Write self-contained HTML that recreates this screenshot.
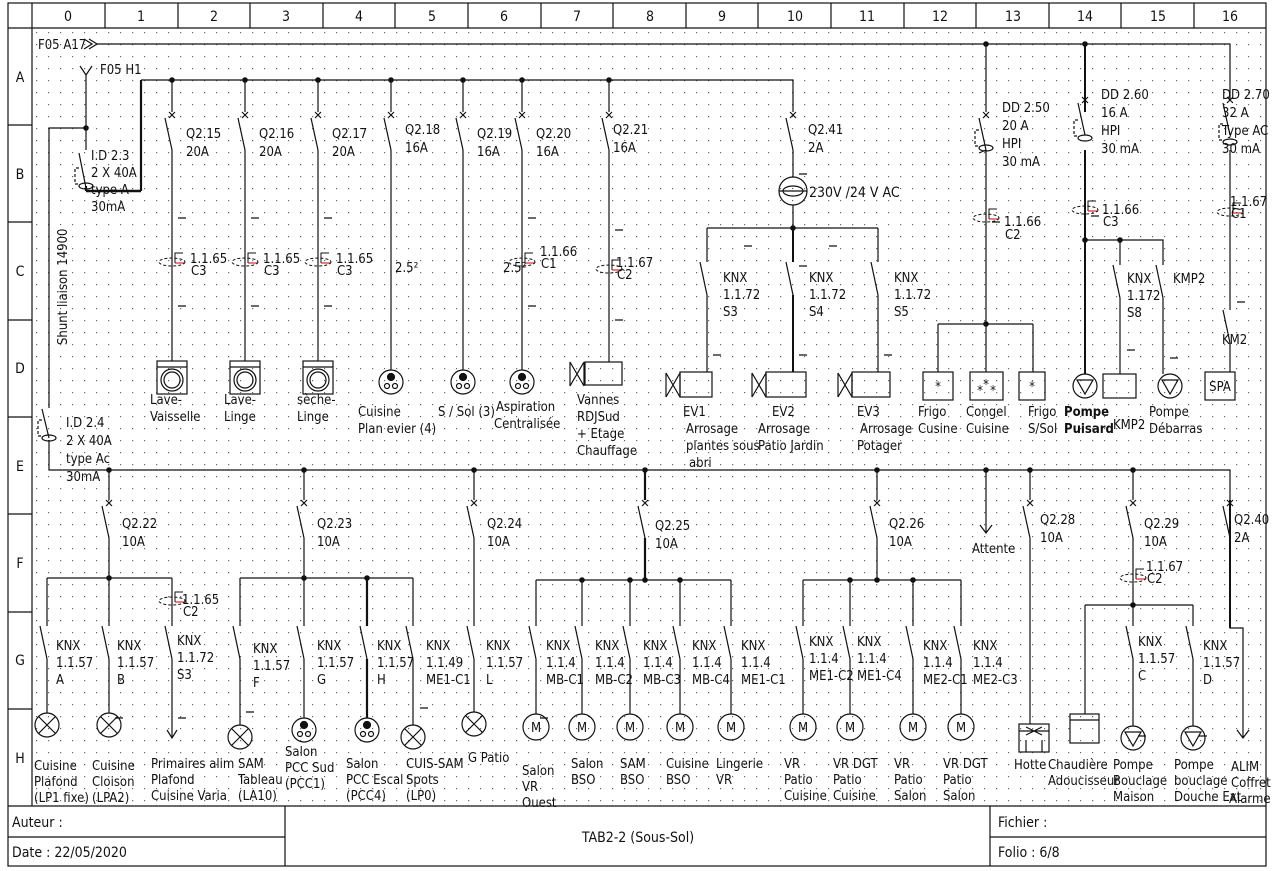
<!DOCTYPE html>
<html><head><meta charset="utf-8"><style>
html,body{margin:0;padding:0;background:#fff;}
svg{display:block;}
text{font-family:"DejaVu Sans Condensed","DejaVu Sans","Liberation Sans",sans-serif;font-size:13px;fill:#111;}
.s{font-size:10.5px;}
.f{font-size:14px;}
</style></head><body>
<svg width="1285" height="871" viewBox="0 0 1285 871" xmlns="http://www.w3.org/2000/svg">
<defs>
<pattern id="dots" x="36" y="32" width="12" height="12" patternUnits="userSpaceOnUse"><rect x="0" y="0" width="1.2" height="1.2" fill="#666"/></pattern>
<g id="B" fill="none" stroke="#111" stroke-width="1.2"><path d="M-3,-3L3,3M-3,3L3,-3M-7,3L0,35"/></g>
<g id="W" fill="none" stroke="#111" stroke-width="1.2"><path d="M-7,0L0,33"/></g>
<g id="L" fill="none" stroke="#111" stroke-width="1.2"><circle r="12"/><path d="M-8.5,-8.5L8.5,8.5M-8.5,8.5L8.5,-8.5"/></g>
<g id="S" stroke="#111" stroke-width="1.2"><circle r="12" fill="none"/><circle cy="-5" r="3.5" fill="#111"/><circle cx="-4" cy="4" r="2.5" fill="none"/><circle cx="4" cy="4" r="2.5" fill="none"/></g>
<g id="N" fill="none" stroke="#111" stroke-width="1"><ellipse cx="0" cy="4" rx="13" ry="4" stroke-dasharray="3,2"/><path d="M3,5V-5H11"/><path d="M3,5H12" stroke="#c00"/></g>
<g id="P" fill="none" stroke="#111" stroke-width="1.2"><circle r="12"/><path d="M-8,-6H8L0,8Z"/></g>
<g id="V" fill="none" stroke="#111" stroke-width="1.2"><path d="M-14,-12L0,12M-14,12L0,-12M-14,-12V12M0,-12V12"/></g>
<g id="WM" fill="none" stroke="#111" stroke-width="1.2"><rect x="-15" y="0" width="30" height="33"/><path d="M-15,6H15"/><circle cx="0" cy="19" r="11"/><circle cx="0" cy="19" r="8"/></g>
</defs>
<rect x="32" y="28" width="1234" height="778" fill="url(#dots)"/>
<g fill="none" stroke="#111" stroke-width="1.2">
<rect x="8" y="3" width="1258" height="863"/>
<path d="M8,28H1266M32,3V806M8,806H1266M8,837H285M990,837H1266M285,806V866M990,806V866"/>
<path d="M105,3V28M178,3V28M250,3V28M323,3V28M395,3V28M468,3V28M541,3V28M613,3V28M686,3V28M758,3V28M831,3V28M904,3V28M976,3V28M1049,3V28M1121,3V28M1194,3V28"/>
<path d="M8,125H32M8,222H32M8,320H32M8,417H32M8,514H32M8,612H32M8,709H32"/>
</g>
<g class="f" text-anchor="middle">
<text x="68" y="21" class="f">0</text><text x="141" y="21" class="f">1</text><text x="214" y="21" class="f">2</text><text x="286" y="21" class="f">3</text><text x="359" y="21" class="f">4</text><text x="432" y="21" class="f">5</text><text x="504" y="21" class="f">6</text><text x="577" y="21" class="f">7</text><text x="650" y="21" class="f">8</text><text x="722" y="21" class="f">9</text><text x="795" y="21" class="f">10</text><text x="867" y="21" class="f">11</text><text x="940" y="21" class="f">12</text><text x="1013" y="21" class="f">13</text><text x="1085" y="21" class="f">14</text><text x="1158" y="21" class="f">15</text><text x="1230" y="21" class="f">16</text>
<text x="20" y="82" class="f">A</text><text x="20" y="179" class="f">B</text><text x="20" y="276" class="f">C</text><text x="20" y="373" class="f">D</text><text x="20" y="471" class="f">E</text><text x="20" y="568" class="f">F</text><text x="20" y="665" class="f">G</text><text x="20" y="763" class="f">H</text>
</g>
<text x="12" y="827" class="f">Auteur :</text>
<text x="12" y="857" class="f">Date : 22/05/2020</text>
<text x="638" y="842" class="f" text-anchor="middle">TAB2-2 (Sous-Sol)</text>
<text x="998" y="827" class="f">Fichier :</text>
<text x="998" y="857" class="f">Folio : 6/8</text>

<g fill="none" stroke="#111" stroke-width="1.2">
<path d="M84,39L92,44L84,49M89,39L97,44L89,49"/>
<path d="M97,44H1230V100"/>
<path d="M80,66L86,75L92,66M86,75V150M86,128H49V408M49,440V470H1230V500"/>
<path d="M86,186V191M141,80V191" stroke-width="2.2"/>
<path d="M86,191H141" stroke-width="2.6"/>
<path d="M141,80H793V112"/>
<path d="M79,153L86,188"/><ellipse cx="86" cy="186" rx="7" ry="3"/><path d="M79,168H75V184H80" stroke-dasharray="3,2"/>
<path d="M42,409L49,438"/><ellipse cx="49" cy="438" rx="7" ry="3"/><path d="M42,420H38V436H43" stroke-dasharray="3,2"/>
<path d="M172,80V112M172,150V361M245,80V112M245,150V361M318,80V112M318,150V361M391,80V112M391,150V370M463,80V112M463,150V370M522,80V112M522,150V370M609,80V112M609,150V362"/>
<path d="M793,150V177M793,205V228M707,228H878M707,228V262M707,295V372M793,228V262M793,295V372M878,228V262M878,295V372"/>
<path d="M793,228V262M793,295V372" stroke-width="2"/>
<path d="M986,44V112M986,150V324M938,324H1033M938,324V372M986,324V372M1033,324V372"/>
<path d="M979,153L986,150"/><ellipse cx="986" cy="148" rx="7" ry="3"/><path d="M979,130H975V146H980" stroke-dasharray="3,2"/>
<path d="M1085,44V112M1085,150V374" stroke-width="2"/>
<ellipse cx="1085" cy="138" rx="7" ry="3"/><path d="M1078,120H1074V136H1079" stroke-dasharray="3,2"/>
<path d="M1085,240H1163V265M1120,240V265M1120,298V374M1163,298V374"/>
<path d="M1230,150V310M1230,343V372"/>
<ellipse cx="1230" cy="142" rx="7" ry="3"/><path d="M1223,124H1219V140H1224" stroke-dasharray="3,2"/>
<path d="M178,218H186M251,218H259M324,218H332M178,306H186M251,306H259M324,306H332M528,218H536M528,306H536M615,230H623M615,320H623M799,174H807M744,246H752M829,246H837M799,266H807M713,355H721M799,355H807M884,355H892M992,222H1000M1091,216H1099M1237,302H1245M1127,350H1135M1170,358H1178"/>
</g>
<g fill="#111">
<circle cx="86" cy="128" r="2.8"/><circle cx="172" cy="80" r="2.8"/><circle cx="245" cy="80" r="2.8"/><circle cx="318" cy="80" r="2.8"/><circle cx="391" cy="80" r="2.8"/><circle cx="463" cy="80" r="2.8"/><circle cx="522" cy="80" r="2.8"/><circle cx="609" cy="80" r="2.8"/>
<circle cx="986" cy="44" r="2.8"/><circle cx="1085" cy="44" r="2.8"/><circle cx="793" cy="228" r="2.8"/><circle cx="986" cy="324" r="2.8"/><circle cx="1085" cy="240" r="2.8"/><circle cx="1120" cy="240" r="2.8"/>
</g>
<use href="#B" x="172" y="115"/><use href="#B" x="245" y="115"/><use href="#B" x="318" y="115"/><use href="#B" x="391" y="115"/><use href="#B" x="463" y="115"/><use href="#B" x="522" y="115"/><use href="#B" x="609" y="115"/><use href="#B" x="793" y="115"/>
<use href="#B" x="986" y="115"/><use href="#B" x="1085" y="100"/><use href="#B" x="1230" y="100"/>
<use href="#W" x="707" y="262"/><use href="#W" x="793" y="262"/><use href="#W" x="878" y="262"/><use href="#W" x="1120" y="265"/><use href="#W" x="1163" y="265"/><use href="#W" x="1230" y="310"/>
<use href="#N" x="172" y="258"/><use href="#N" x="245" y="258"/><use href="#N" x="318" y="258"/><use href="#N" x="522" y="258"/><use href="#N" x="609" y="265"/><use href="#N" x="986" y="214"/><use href="#N" x="1085" y="206"/><use href="#N" x="1230" y="208"/>
<use href="#WM" x="172" y="361"/><use href="#WM" x="245" y="361"/><use href="#WM" x="318" y="361"/>
<use href="#S" x="391" y="382"/><use href="#S" x="463" y="382"/><use href="#S" x="522" y="382"/>
<g fill="none" stroke="#111" stroke-width="1.2">
<rect x="585" y="362" width="37" height="23"/><rect x="680" y="372" width="32" height="25"/><rect x="766" y="372" width="40" height="25"/><rect x="852" y="372" width="38" height="25"/>
<circle cx="793" cy="191" r="14"/><path d="M779,191H807"/><ellipse cx="793" cy="191" rx="10" ry="5"/>
<rect x="923" y="372" width="30" height="28"/><rect x="970" y="372" width="33" height="28"/><rect x="1019" y="372" width="26" height="28"/>
<rect x="1103" y="374" width="33" height="24"/><rect x="1205" y="372" width="30" height="28"/>
</g>
<use href="#V" x="584" y="374"/><use href="#V" x="680" y="385"/><use href="#V" x="766" y="385"/><use href="#V" x="852" y="385"/>
<use href="#P" x="1085" y="386"/><use href="#P" x="1170" y="386"/>
<text x="938" y="391" text-anchor="middle">*</text><text x="986" y="389" text-anchor="middle">*</text><text x="980" y="395" text-anchor="middle">*</text><text x="993" y="395" text-anchor="middle">*</text><text x="1032" y="391" text-anchor="middle">*</text>
<text x="1220" y="391" text-anchor="middle">SPA</text>

<text x="38" y="49">F05 A17</text><text x="100" y="74">F05 H1</text>
<text x="91" y="160">I.D 2.3</text><text x="91" y="177">2 X 40A</text><text x="91" y="194">type A</text><text x="91" y="211">30mA</text>
<text x="66" y="427">I.D 2.4</text><text x="66" y="445">2 X 40A</text><text x="66" y="463">type Ac</text><text x="66" y="481">30mA</text>
<text transform="translate(67,345) rotate(-90)">Shunt liaison 14900</text>
<text x="186" y="138">Q2.15</text><text x="186" y="156">20A</text>
<text x="259" y="138">Q2.16</text><text x="259" y="156">20A</text>
<text x="332" y="138">Q2.17</text><text x="332" y="156">20A</text>
<text x="405" y="134">Q2.18</text><text x="405" y="152">16A</text>
<text x="477" y="138">Q2.19</text><text x="477" y="156">16A</text>
<text x="536" y="138">Q2.20</text><text x="536" y="156">16A</text>
<text x="613" y="134">Q2.21</text><text x="613" y="152">16A</text>
<text x="808" y="134">Q2.41</text><text x="808" y="152">2A</text>
<text x="809" y="197" style="font-size:14px">230V /24 V AC</text>
<g class="s">
<text x="190" y="263">1.1.65</text><text x="191" y="275">C3</text>
<text x="263" y="263">1.1.65</text><text x="264" y="275">C3</text>
<text x="336" y="263">1.1.65</text><text x="337" y="275">C3</text>
<text x="540" y="256">1.1.66</text><text x="541" y="268">C1</text>
<text x="616" y="267">1.1.67</text><text x="617" y="279">C2</text>
<text x="1004" y="226">1.1.66</text><text x="1005" y="239">C2</text>
<text x="1102" y="214">1.1.66</text><text x="1103" y="226">C3</text>
<text x="1230" y="206">1.1.67</text><text x="1231" y="218">C1</text>
</g>
<text x="395" y="272">2.5²</text><text x="503" y="272">2.5²</text>
<text x="150" y="404">Lave-</text><text x="150" y="421">Vaisselle</text>
<text x="224" y="404">Lave-</text><text x="224" y="421">Linge</text>
<text x="297" y="404">sèche-</text><text x="297" y="421">Linge</text>
<text x="358" y="416">Cuisine</text><text x="358" y="433">Plan evier (4)</text>
<text x="438" y="416">S / Sol (3)</text>
<text x="496" y="411">Aspiration</text><text x="494" y="428">Centralisée</text>
<text x="577" y="404">Vannes</text><text x="577" y="421">RDJSud</text><text x="577" y="438">+ Etage</text><text x="577" y="455">Chauffage</text>
<text x="723" y="282">KNX</text><text x="723" y="299">1.1.72</text><text x="723" y="316">S3</text>
<text x="809" y="282">KNX</text><text x="809" y="299">1.1.72</text><text x="809" y="316">S4</text>
<text x="894" y="282">KNX</text><text x="894" y="299">1.1.72</text><text x="894" y="316">S5</text>
<text x="1002" y="112">DD 2.50</text><text x="1002" y="130">20 A</text><text x="1002" y="148">HPI</text><text x="1002" y="166">30 mA</text>
<text x="1101" y="99">DD 2.60</text><text x="1101" y="117">16 A</text><text x="1101" y="135">HPI</text><text x="1101" y="153">30 mA</text>
<text x="1222" y="99">DD 2.70</text><text x="1222" y="117">32 A</text><text x="1222" y="135">Type AC</text><text x="1222" y="153">30 mA</text>
<text x="1127" y="283">KNX</text><text x="1127" y="300">1.172</text><text x="1127" y="317">S8</text>
<text x="1173" y="283">KMP2</text><text x="1222" y="344">KM2</text>
<text x="683" y="416">EV1</text><text x="686" y="433">Arrosage</text><text x="686" y="450">plantes sous</text><text x="689" y="467">abri</text>
<text x="772" y="416">EV2</text><text x="758" y="433">Arrosage</text><text x="758" y="450">Patio Jardin</text>
<text x="857" y="416">EV3</text><text x="860" y="433">Arrosage</text><text x="857" y="450">Potager</text>
<text x="918" y="416">Frigo</text><text x="918" y="433">Cusine</text>
<text x="966" y="416">Congel</text><text x="966" y="433">Cuisine</text>
<text x="1028" y="416">Frigo</text><text x="1028" y="433">S/Sol</text>
<text x="1064" y="416" font-weight="bold">Pompe</text><text x="1064" y="433" font-weight="bold">Puisard</text>
<text x="1113" y="429">KMP2</text>
<text x="1149" y="416">Pompe</text><text x="1149" y="433">Débarras</text>

<g fill="none" stroke="#111" stroke-width="1.2">
<path d="M109,470V500M109,538V578M47,578H172M47,578V626M47,659V713M109,578V626M109,659V713M172,578V626M172,659V738"/>
<path d="M167,730L172,738L177,730"/>
<path d="M304,470V500M304,538V578M240,578H413M240,578V626M240,659V725M304,578V626M304,659V718M413,578V626M413,659V725"/>
<path d="M367,578V626M367,659V718" stroke-width="2.2"/>
<path d="M474,470V500M474,538V626M474,659V712"/>
<path d="M645,470V500M645,538V580" stroke-width="2.2"/>
<path d="M536,580H731M536,580V626M536,659V714M582,580V626M582,659V714M630,580V626M630,659V714M680,580V626M680,659V714M731,580V626M731,659V714"/>
<path d="M877,470V500M877,538V580M803,580H961M803,580V626M803,659V714M850,580V626M850,659V714M913,580V626M913,659V714M961,580V626M961,659V714"/>
<path d="M986,470V533M980,525L986,533L992,525"/>
<path d="M1030,470V500M1030,538V724"/>
<rect x="1019" y="724" width="30" height="28"/><path d="M1019,731H1049M1026,727L1042,735M1026,735L1042,727M1026,740V752M1042,740V752"/>
<path d="M1133,470V500M1133,538V626M1133,659V726M1085,605H1193M1085,605V714M1193,605V626M1193,659V726"/>
<rect x="1070" y="714" width="29" height="29"/><path d="M1070,720H1099"/>
<path d="M1230,538V628H1243V738M1237,730L1243,738L1249,730" />
<path d="M1230,500V628" stroke-width="2"/>
<path d="M115,718H123M178,718H186M246,712H254M420,708H428M540,718H548M1138,736H1146M1199,736H1207"/>
</g>
<g fill="#111">
<circle cx="109" cy="470" r="2.8"/><circle cx="304" cy="470" r="2.8"/><circle cx="474" cy="470" r="2.8"/><circle cx="645" cy="470" r="2.8"/><circle cx="877" cy="470" r="2.8"/><circle cx="986" cy="470" r="2.8"/><circle cx="1030" cy="470" r="2.8"/><circle cx="1133" cy="470" r="2.8"/>
<circle cx="109" cy="578" r="2.8"/><circle cx="304" cy="578" r="2.8"/><circle cx="367" cy="578" r="2.8"/><circle cx="582" cy="580" r="2.8"/><circle cx="630" cy="580" r="2.8"/><circle cx="645" cy="580" r="2.8"/><circle cx="680" cy="580" r="2.8"/>
<circle cx="850" cy="580" r="2.8"/><circle cx="877" cy="580" r="2.8"/><circle cx="913" cy="580" r="2.8"/><circle cx="1133" cy="605" r="2.8"/>
</g>
<use href="#B" x="109" y="503"/><use href="#B" x="304" y="503"/><use href="#B" x="474" y="503"/><use href="#B" x="645" y="503"/><use href="#B" x="877" y="503"/><use href="#B" x="1030" y="503"/><use href="#B" x="1133" y="503"/><use href="#B" x="1230" y="503"/>
<use href="#W" x="47" y="626"/><use href="#W" x="109" y="626"/><use href="#W" x="172" y="626"/><use href="#W" x="240" y="626"/><use href="#W" x="304" y="626"/><use href="#W" x="367" y="626"/><use href="#W" x="413" y="626"/><use href="#W" x="474" y="626"/>
<use href="#W" x="536" y="626"/><use href="#W" x="582" y="626"/><use href="#W" x="630" y="626"/><use href="#W" x="680" y="626"/><use href="#W" x="731" y="626"/>
<use href="#W" x="803" y="626"/><use href="#W" x="850" y="626"/><use href="#W" x="913" y="626"/><use href="#W" x="961" y="626"/><use href="#W" x="1133" y="626"/><use href="#W" x="1193" y="626"/>
<use href="#N" x="172" y="597"/><use href="#N" x="1133" y="574"/>
<use href="#L" x="47" y="725"/><use href="#L" x="109" y="725"/><use href="#L" x="240" y="737"/><use href="#L" x="413" y="737"/><use href="#L" x="474" y="724"/>
<use href="#S" x="304" y="730"/><use href="#S" x="367" y="730"/>
<use href="#P" x="1133" y="738"/><use href="#P" x="1193" y="738"/>
<g fill="none" stroke="#111" stroke-width="1.2">
<circle cx="536" cy="727" r="13"/><circle cx="582" cy="727" r="13"/><circle cx="630" cy="727" r="13"/><circle cx="680" cy="727" r="13"/><circle cx="731" cy="727" r="13"/>
<circle cx="803" cy="727" r="13"/><circle cx="850" cy="727" r="13"/><circle cx="913" cy="727" r="13"/><circle cx="961" cy="727" r="13"/>
</g>
<g text-anchor="middle">
<text x="536" y="732">M</text><text x="582" y="732">M</text><text x="630" y="732">M</text><text x="680" y="732">M</text><text x="731" y="732">M</text>
<text x="803" y="732">M</text><text x="850" y="732">M</text><text x="913" y="732">M</text><text x="961" y="732">M</text>
</g>
<text x="122" y="528">Q2.22</text><text x="122" y="546">10A</text>
<text x="317" y="528">Q2.23</text><text x="317" y="546">10A</text>
<text x="487" y="528">Q2.24</text><text x="487" y="546">10A</text>
<text x="655" y="530">Q2.25</text><text x="655" y="548">10A</text>
<text x="889" y="528">Q2.26</text><text x="889" y="546">10A</text>
<text x="972" y="553">Attente</text>
<text x="1040" y="524">Q2.28</text><text x="1040" y="542">10A</text>
<text x="1144" y="528">Q2.29</text><text x="1144" y="546">10A</text>
<text x="1234" y="524">Q2.40</text><text x="1234" y="542">2A</text>
<g class="s"><text x="182" y="604">1.1.65</text><text x="183" y="616">C2</text><text x="1146" y="571">1.1.67</text><text x="1147" y="583">C2</text></g>
<text x="56" y="650">KNX</text><text x="56" y="667">1.1.57</text><text x="56" y="684">A</text>
<text x="117" y="650">KNX</text><text x="117" y="667">1.1.57</text><text x="117" y="684">B</text>
<text x="177" y="645">KNX</text><text x="177" y="662">1.1.72</text><text x="177" y="679">S3</text>
<text x="253" y="653">KNX</text><text x="253" y="670">1.1.57</text><text x="253" y="687">F</text>
<text x="317" y="650">KNX</text><text x="317" y="667">1.1.57</text><text x="317" y="684">G</text>
<text x="377" y="650">KNX</text><text x="377" y="667">1.1.57</text><text x="377" y="684">H</text>
<text x="426" y="650">KNX</text><text x="426" y="667">1.1.49</text><text x="426" y="684">ME1-C1</text>
<text x="486" y="650">KNX</text><text x="486" y="667">1.1.57</text><text x="486" y="684">L</text>
<text x="546" y="650">KNX</text><text x="546" y="667">1.1.4</text><text x="546" y="684">MB-C1</text>
<text x="595" y="650">KNX</text><text x="595" y="667">1.1.4</text><text x="595" y="684">MB-C2</text>
<text x="643" y="650">KNX</text><text x="643" y="667">1.1.4</text><text x="643" y="684">MB-C3</text>
<text x="692" y="650">KNX</text><text x="692" y="667">1.1.4</text><text x="692" y="684">MB-C4</text>
<text x="741" y="650">KNX</text><text x="741" y="667">1.1.4</text><text x="741" y="684">ME1-C1</text>
<text x="809" y="646">KNX</text><text x="809" y="663">1.1.4</text><text x="809" y="680">ME1-C2</text>
<text x="857" y="646">KNX</text><text x="857" y="663">1.1.4</text><text x="857" y="680">ME1-C4</text>
<text x="923" y="650">KNX</text><text x="923" y="667">1.1.4</text><text x="923" y="684">ME2-C1</text>
<text x="973" y="650">KNX</text><text x="973" y="667">1.1.4</text><text x="973" y="684">ME2-C3</text>
<text x="1138" y="646">KNX</text><text x="1138" y="663">1.1.57</text><text x="1138" y="680">C</text>
<text x="1203" y="650">KNX</text><text x="1203" y="667">1.1.57</text><text x="1203" y="684">D</text>
<text x="34" y="770">Cuisine</text><text x="34" y="786">Plafond</text><text x="34" y="802">(LP1 fixe)</text>
<text x="92" y="770">Cuisine</text><text x="92" y="786">Cloison</text><text x="92" y="802">(LPA2)</text>
<text x="151" y="768">Primaires alim</text><text x="151" y="784">Plafond</text><text x="151" y="800">Cuisine Varia</text>
<text x="238" y="768">SAM</text><text x="238" y="784">Tableau</text><text x="238" y="800">(LA10)</text>
<text x="285" y="756">Salon</text><text x="285" y="772">PCC Sud</text><text x="285" y="788">(PCC1)</text>
<text x="346" y="768">Salon</text><text x="346" y="784">PCC Escal</text><text x="346" y="800">(PCC4)</text>
<text x="406" y="768">CUIS-SAM</text><text x="406" y="784">Spots</text><text x="406" y="800">(LP0)</text>
<text x="468" y="762">G Patio</text>
<text x="522" y="775">Salon</text><text x="522" y="791">VR</text><text x="522" y="807">Ouest</text>
<text x="571" y="768">Salon</text><text x="571" y="784">BSO</text>
<text x="620" y="768">SAM</text><text x="620" y="784">BSO</text>
<text x="666" y="768">Cuisine</text><text x="666" y="784">BSO</text>
<text x="716" y="768">Lingerie</text><text x="716" y="784">VR</text>
<text x="784" y="768">VR</text><text x="784" y="784">Patio</text><text x="784" y="800">Cuisine</text>
<text x="833" y="768">VR DGT</text><text x="833" y="784">Patio</text><text x="833" y="800">Cuisine</text>
<text x="894" y="768">VR</text><text x="894" y="784">Patio</text><text x="894" y="800">Salon</text>
<text x="943" y="768">VR DGT</text><text x="943" y="784">Patio</text><text x="943" y="800">Salon</text>
<text x="1014" y="769">Hotte</text>
<text x="1048" y="769">Chaudière</text><text x="1048" y="785">Adoucisseur</text>
<text x="1113" y="769">Pompe</text><text x="1113" y="785">Bouclage</text><text x="1113" y="801">Maison</text>
<text x="1174" y="769">Pompe</text><text x="1174" y="785">bouclage</text><text x="1174" y="801">Douche Ext</text>
<text x="1231" y="771">ALIM</text><text x="1231" y="787">Coffret</text><text x="1229" y="803">Alarme</text>
</svg>
</body></html>
